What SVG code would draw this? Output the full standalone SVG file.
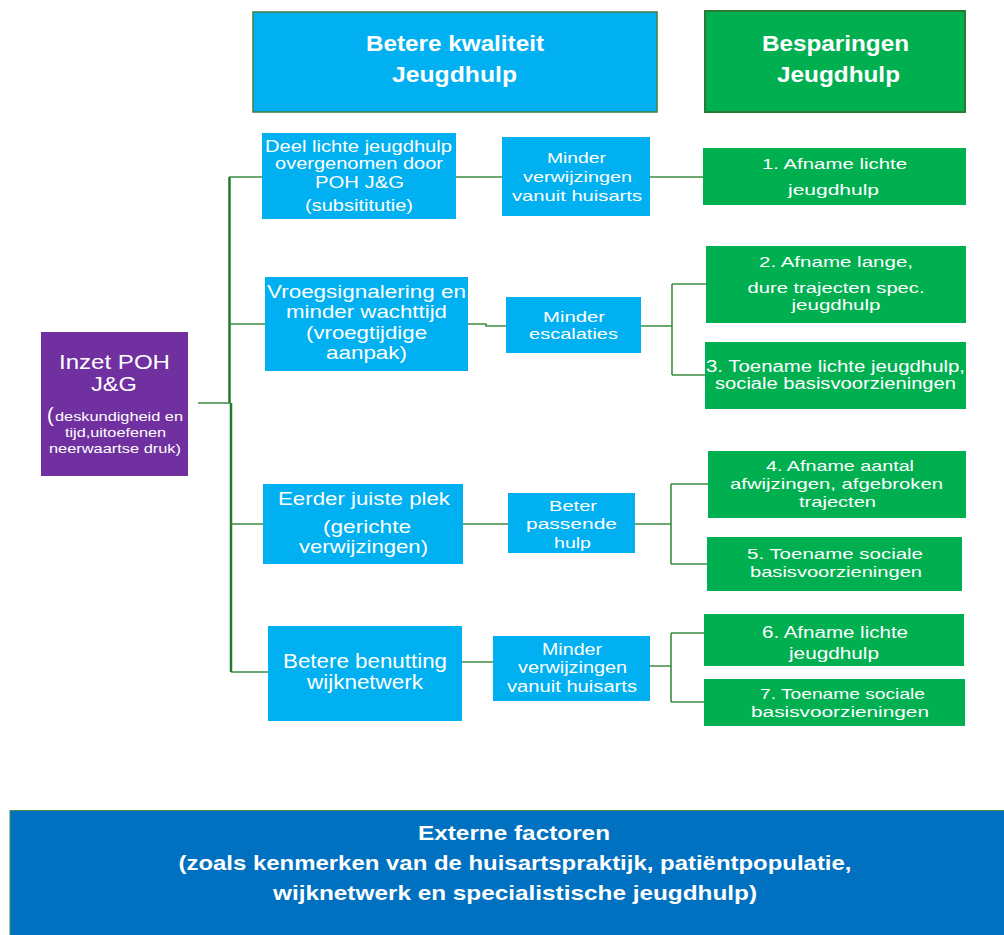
<svg xmlns="http://www.w3.org/2000/svg" width="1004" height="935" viewBox="0 0 1004 935">
<style>
text{font-family:"Liberation Sans",Arial,sans-serif;fill:#ffffff;text-anchor:middle}
.hd{font-size:22px;font-weight:bold}
.ext{font-size:21px;font-weight:bold}
.cy{fill:#00B0F0}
.gr{fill:#00B050}
.conn{fill:none;stroke:#3C8C40;stroke-width:1.6}
.trunk{fill:none;stroke:#237A2E;stroke-width:2.5}
</style>
<rect width="1004" height="935" fill="#ffffff"/>

<g id="connectors">
<path class="trunk" d="M229.5,177 V403 M231,403 V672"/>
<path class="conn" d="M198,403 H231"/>
<path class="conn" d="M229,177 H262 M456,177 H502 M650,177 H703"/>
<path class="conn" d="M230,324 H265 M468,324 H486 V326 H506 M641,326 H672 M672,284 V375 M672,284 H706 M672,375 H705"/>
<path class="conn" d="M231,524 H263 M463,524 H508 M635,524 H671 M671,484 V564 M671,484 H708 M671,564 H707"/>
<path class="conn" d="M231,672 H268 M462,662 H493 M650,666 H671 M671,633 V702 M671,633 H704 M671,702 H704"/>
</g>

<g id="header-kwaliteit">
<rect x="253" y="12" width="404" height="100" fill="#00B0F0" stroke="#3F7F3F" stroke-width="1.5"/>
<text class="hd" x="455" y="51" textLength="178" lengthAdjust="spacingAndGlyphs">Betere kwaliteit</text>
<text class="hd" x="454.5" y="82" textLength="125" lengthAdjust="spacingAndGlyphs">Jeugdhulp</text>
</g>

<g id="header-besparingen">
<rect x="705" y="11" width="260" height="101" fill="#00B050" stroke="#2A7A35" stroke-width="2"/>
<text class="hd" x="835.5" y="51" textLength="147" lengthAdjust="spacingAndGlyphs">Besparingen</text>
<text class="hd" x="838.5" y="82" textLength="123" lengthAdjust="spacingAndGlyphs">Jeugdhulp</text>
</g>

<g id="inzet-poh">
<rect x="41" y="332" width="147" height="144" fill="#7030A0"/>
<text x="114.5" y="369" font-size="20.5" textLength="111" lengthAdjust="spacingAndGlyphs">Inzet POH</text>
<text x="114" y="391" font-size="20.5" textLength="46" lengthAdjust="spacingAndGlyphs">J&amp;G</text>
<text x="47" y="422" font-size="20" style="text-anchor:start">(</text>
<text x="55" y="421" font-size="13" style="text-anchor:start" textLength="128" lengthAdjust="spacingAndGlyphs">deskundigheid en</text>
<text x="115.5" y="437" font-size="13" textLength="101" lengthAdjust="spacingAndGlyphs">tijd,uitoefenen</text>
<text x="115" y="453" font-size="13" textLength="132" lengthAdjust="spacingAndGlyphs">neerwaartse druk)</text>
</g>

<g id="deel-lichte-jeugdhulp">
<rect class="cy" x="262" y="133" width="194" height="86"/>
<text x="358.5" y="152" font-size="16" textLength="187" lengthAdjust="spacingAndGlyphs">Deel lichte jeugdhulp</text>
<text x="359" y="169" font-size="16" textLength="168" lengthAdjust="spacingAndGlyphs">overgenomen door</text>
<text x="359.5" y="188" font-size="16" textLength="89" lengthAdjust="spacingAndGlyphs">POH J&amp;G</text>
<text x="359" y="211" font-size="16" textLength="108" lengthAdjust="spacingAndGlyphs">(subsititutie)</text>
</g>

<g id="minder-verwijzingen-1">
<rect class="cy" x="502" y="137" width="148" height="79"/>
<text x="576.5" y="163" font-size="15" textLength="59" lengthAdjust="spacingAndGlyphs">Minder</text>
<text x="577.5" y="182" font-size="15" textLength="109" lengthAdjust="spacingAndGlyphs">verwijzingen</text>
<text x="577" y="201" font-size="15" textLength="130" lengthAdjust="spacingAndGlyphs">vanuit huisarts</text>
</g>

<g id="afname-lichte-1">
<rect class="gr" x="703" y="148" width="263" height="57"/>
<text x="834.5" y="169" font-size="15.5" textLength="145" lengthAdjust="spacingAndGlyphs">1. Afname lichte</text>
<text x="833.5" y="195" font-size="15.5" textLength="91" lengthAdjust="spacingAndGlyphs">jeugdhulp</text>
</g>

<g id="vroegsignalering">
<rect class="cy" x="265" y="277" width="203" height="94"/>
<text x="366.5" y="298" font-size="18.5" textLength="199" lengthAdjust="spacingAndGlyphs">Vroegsignalering en</text>
<text x="366.5" y="318" font-size="18.5" textLength="161" lengthAdjust="spacingAndGlyphs">minder wachttijd</text>
<text x="366.5" y="339" font-size="18.5" textLength="121" lengthAdjust="spacingAndGlyphs">(vroegtijdige</text>
<text x="366.5" y="359" font-size="18.5" textLength="81" lengthAdjust="spacingAndGlyphs">aanpak)</text>
</g>

<g id="minder-escalaties">
<rect class="cy" x="506" y="297" width="135" height="56"/>
<text x="574" y="322" font-size="15.5" textLength="62" lengthAdjust="spacingAndGlyphs">Minder</text>
<text x="573.5" y="339" font-size="15.5" textLength="89" lengthAdjust="spacingAndGlyphs">escalaties</text>
</g>

<g id="afname-lange">
<rect class="gr" x="706" y="246" width="260" height="77"/>
<text x="836" y="267" font-size="15.5" textLength="154" lengthAdjust="spacingAndGlyphs">2. Afname lange,</text>
<text x="836" y="293" font-size="15.5" textLength="177" lengthAdjust="spacingAndGlyphs">dure trajecten spec.</text>
<text x="836" y="310" font-size="15.5" textLength="89" lengthAdjust="spacingAndGlyphs">jeugdhulp</text>
</g>

<g id="toename-lichte">
<rect class="gr" x="705" y="342" width="261" height="67"/>
<text x="835.5" y="372" font-size="16" textLength="259" lengthAdjust="spacingAndGlyphs">3. Toename lichte jeugdhulp,</text>
<text x="835.5" y="389" font-size="16" textLength="241" lengthAdjust="spacingAndGlyphs">sociale basisvoorzieningen</text>
</g>

<g id="eerder-juiste-plek">
<rect class="cy" x="263" y="484" width="200" height="80"/>
<text x="364" y="505" font-size="19" textLength="172" lengthAdjust="spacingAndGlyphs">Eerder juiste plek</text>
<text x="367" y="533" font-size="19" textLength="88" lengthAdjust="spacingAndGlyphs">(gerichte</text>
<text x="363.5" y="553" font-size="19" textLength="129" lengthAdjust="spacingAndGlyphs">verwijzingen)</text>
</g>

<g id="beter-passende-hulp">
<rect class="cy" x="508" y="493" width="127" height="60"/>
<text x="573" y="511" font-size="15.5" textLength="48" lengthAdjust="spacingAndGlyphs">Beter</text>
<text x="571.5" y="529" font-size="15.5" textLength="91" lengthAdjust="spacingAndGlyphs">passende</text>
<text x="572.5" y="548" font-size="15.5" textLength="37" lengthAdjust="spacingAndGlyphs">hulp</text>
</g>

<g id="afname-aantal">
<rect class="gr" x="708" y="451" width="258" height="67"/>
<text x="840" y="471" font-size="15" textLength="148" lengthAdjust="spacingAndGlyphs">4. Afname aantal</text>
<text x="836.5" y="489" font-size="15" textLength="213" lengthAdjust="spacingAndGlyphs">afwijzingen, afgebroken</text>
<text x="837.5" y="507" font-size="15" textLength="77" lengthAdjust="spacingAndGlyphs">trajecten</text>
</g>

<g id="toename-sociale-5">
<rect class="gr" x="707" y="537" width="255" height="54"/>
<text x="835" y="559" font-size="15.5" textLength="176" lengthAdjust="spacingAndGlyphs">5. Toename sociale</text>
<text x="836" y="577" font-size="15.5" textLength="172" lengthAdjust="spacingAndGlyphs">basisvoorzieningen</text>
</g>

<g id="betere-benutting">
<rect class="cy" x="268" y="626" width="194" height="95"/>
<text x="365" y="668" font-size="19.5" textLength="164" lengthAdjust="spacingAndGlyphs">Betere benutting</text>
<text x="365" y="689" font-size="19.5" textLength="116" lengthAdjust="spacingAndGlyphs">wijknetwerk</text>
</g>

<g id="minder-verwijzingen-2">
<rect class="cy" x="493" y="636" width="157" height="65"/>
<text x="572" y="655" font-size="16" textLength="60" lengthAdjust="spacingAndGlyphs">Minder</text>
<text x="572.5" y="673" font-size="16" textLength="109" lengthAdjust="spacingAndGlyphs">verwijzingen</text>
<text x="572" y="692" font-size="16" textLength="130" lengthAdjust="spacingAndGlyphs">vanuit huisarts</text>
</g>

<g id="afname-lichte-6">
<rect class="gr" x="704" y="614" width="260" height="52"/>
<text x="835" y="638" font-size="16" textLength="146" lengthAdjust="spacingAndGlyphs">6. Afname lichte</text>
<text x="834" y="659" font-size="16" textLength="90" lengthAdjust="spacingAndGlyphs">jeugdhulp</text>
</g>

<g id="toename-sociale-7">
<rect class="gr" x="704" y="679" width="261" height="47"/>
<text x="842.5" y="699" font-size="15.5" textLength="165" lengthAdjust="spacingAndGlyphs">7. Toename sociale</text>
<text x="840" y="717" font-size="15.5" textLength="178" lengthAdjust="spacingAndGlyphs">basisvoorzieningen</text>
</g>

<g id="externe-factoren">
<rect x="10" y="810.5" width="1000" height="130" fill="#0070C0" stroke="#4A8A4A" stroke-width="1"/>
<text class="ext" x="514" y="840" textLength="192" lengthAdjust="spacingAndGlyphs">Externe factoren</text>
<text class="ext" x="515" y="870" textLength="673" lengthAdjust="spacingAndGlyphs">(zoals kenmerken van de huisartspraktijk, patiëntpopulatie,</text>
<text class="ext" x="515" y="900" textLength="484" lengthAdjust="spacingAndGlyphs">wijknetwerk en specialistische jeugdhulp)</text>
</g>
</svg>
